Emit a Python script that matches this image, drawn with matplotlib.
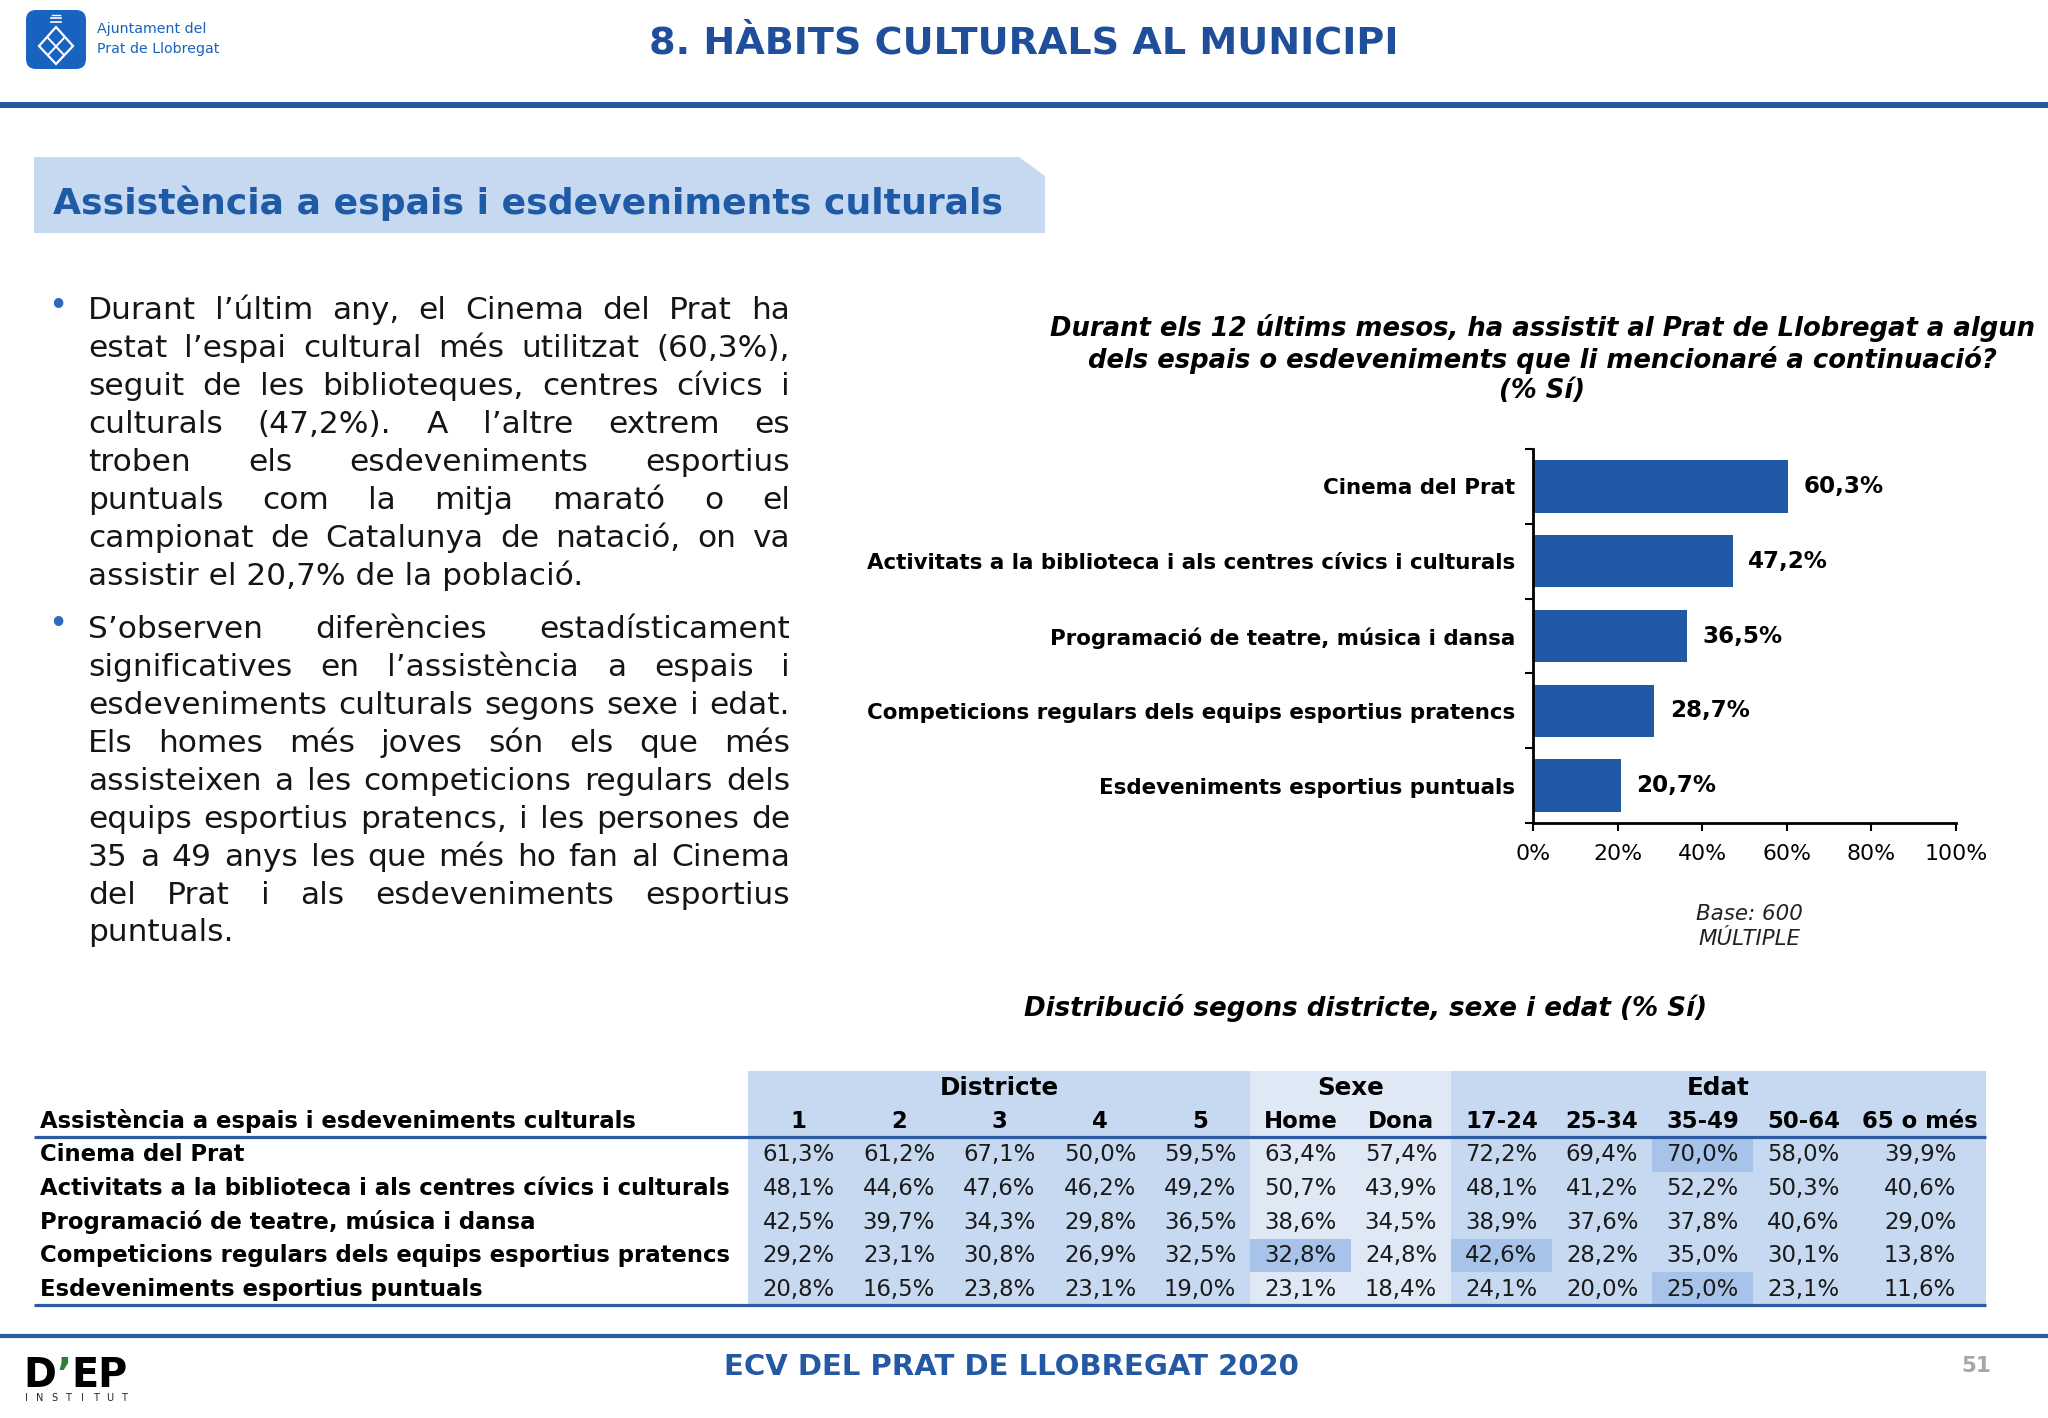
import numpy as np
import matplotlib
matplotlib.use("Agg")
import matplotlib.pyplot as plt
from matplotlib.patches import Rectangle, Polygon, FancyBboxPatch

W, H = 2048, 1418

# ---- data ----
categories = [
    "Cinema del Prat",
    "Activitats a la biblioteca i als centres cívics i culturals",
    "Programació de teatre, música i dansa",
    "Competicions regulars dels equips esportius pratencs",
    "Esdeveniments esportius puntuals",
]
total_yes = [60.3, 47.2, 36.5, 28.7, 20.7]

x_ticks = [0, 20, 40, 60, 80, 100]

groups = ["Districte", "Sexe", "Edat"]
group_sizes = [5, 2, 5]
columns = ["1", "2", "3", "4", "5", "Home", "Dona",
           "17-24", "25-34", "35-49", "50-64", "65 o més"]

cinema = [61.3, 61.2, 67.1, 50.0, 59.5, 63.4, 57.4, 72.2, 69.4, 70.0, 58.0, 39.9]
biblioteca = [48.1, 44.6, 47.6, 46.2, 49.2, 50.7, 43.9, 48.1, 41.2, 52.2, 50.3, 40.6]
teatre = [42.5, 39.7, 34.3, 29.8, 36.5, 38.6, 34.5, 38.9, 37.6, 37.8, 40.6, 29.0]
competicions = [29.2, 23.1, 30.8, 26.9, 32.5, 32.8, 24.8, 42.6, 28.2, 35.0, 30.1, 13.8]
esdeveniments = [20.8, 16.5, 23.8, 23.1, 19.0, 23.1, 18.4, 24.1, 20.0, 25.0, 23.1, 11.6]
table_rows = [cinema, biblioteca, teatre, competicions, esdeveniments]

# significant cells (row, column)
highlights = [(0, 9), (3, 5), (3, 7), (4, 9)]

para1 = [
    "Durant l’últim any, el Cinema del Prat ha",
    "estat l’espai cultural més utilitzat (60,3%),",
    "seguit de les biblioteques, centres cívics i",
    "culturals (47,2%). A l’altre extrem es",
    "troben els esdeveniments esportius",
    "puntuals com la mitja marató o el",
    "campionat de Catalunya de natació, on va",
    "assistir el 20,7% de la població.",
]
para2 = [
    "S’observen diferències estadísticament",
    "significatives en l’assistència a espais i",
    "esdeveniments culturals segons sexe i edat.",
    "Els homes més joves són els que més",
    "assisteixen a les competicions regulars dels",
    "equips esportius pratencs, i les persones de",
    "35 a 49 anys les que més ho fan al Cinema",
    "del Prat i als esdeveniments esportius",
    "puntuals.",
]

# ---- colours ----
BLUE = "#1F4E9A"
BAR = "#2159A6"
LIGHT = "#C6D9F1"
LIGHTER = "#DFE8F5"
HILITE = "#A8C3EA"
LINE = "#2B5BA3"


def pct(v):
    return f"{v:.1f}%".replace(".", ",")


fig = plt.figure(figsize=(W / 100, H / 100), dpi=100)
ov = fig.add_axes([0, 0, 1, 1])
ov.set_xlim(0, W)
ov.set_ylim(H, 0)
ov.axis("off")
renderer = fig.canvas.get_renderer()


def text_width(s, size, **kw):
    t = ov.text(0, 0, s, fontsize=size, **kw)
    w = t.get_window_extent(renderer).width
    t.remove()
    return w


def fit_size(s, width, **kw):
    return 20 * width / text_width(s, 20, **kw)


# ---- header ----
ov.add_patch(FancyBboxPatch((26, 10), 60, 59, boxstyle="round,pad=0,rounding_size=10",
                            fc="#1763BF", ec="none"))
ov.add_patch(Polygon([(56, 27), (73, 46), (56, 64), (39, 46)], closed=True,
                     fc="none", ec="white", lw=1.6))
ov.plot([48, 64], [38, 55], color="white", lw=1.4)
ov.plot([64, 48], [38, 55], color="white", lw=1.4)
ov.plot([51, 61], [18, 18], color="white", lw=1.2)
ov.plot([51, 61], [22, 22], color="white", lw=1.2)
ov.plot([52, 60], [15, 15], color="white", lw=1.0)

s = fit_size("Prat de Llobregat", 122)
ov.text(97, 29, "Ajuntament del", fontsize=s, color="#1763BF", va="center")
ov.text(97, 49, "Prat de Llobregat", fontsize=s, color="#1763BF", va="center")

s = fit_size("8. HÀBITS CULTURALS AL MUNICIPI", 748, fontweight="bold")
ov.text(1024, 43, "8. HÀBITS CULTURALS AL MUNICIPI", fontsize=s, fontweight="bold",
        color=BLUE, ha="center", va="center")
ov.plot([0, W], [105, 105], color="#2356A3", lw=4.3, solid_capstyle="butt")

# section banner
ov.add_patch(Polygon([(34, 157), (1019, 157), (1045, 176), (1045, 233), (34, 233)],
                     closed=True, fc=LIGHT, ec="none"))
s = fit_size("Assistència a espais i esdeveniments culturals", 951, fontweight="bold")
ov.text(53, 203, "Assistència a espais i esdeveniments culturals", fontsize=s,
        fontweight="bold", color="#1F5AA6", va="center")

# ---- justified body text ----
body_size = 23.0
X0, X1 = 88, 790
while max(text_width(l, body_size) for l in para1 + para2) > X1 - X0 and body_size > 14:
    body_size -= 0.5
em = body_size * 100 / 72


def justified(lines, y0, dy):
    for i, line in enumerate(lines):
        yb = y0 + i * dy + 0.36 * em
        if i == len(lines) - 1:
            ov.text(X0, yb, line, fontsize=body_size, color="#151515", va="baseline")
            continue
        words = line.split()
        widths = [text_width(w, body_size) for w in words]
        gap = (X1 - X0 - sum(widths)) / (len(words) - 1)
        x = X0
        for w, wd in zip(words, widths):
            ov.text(x, yb, w, fontsize=body_size, color="#151515", va="baseline")
            x += wd + gap


justified(para1, 308, 37.9)
justified(para2, 627, 37.9)
ov.text(58, 306, "•", fontsize=body_size * 1.05, color="#2E6BC0", ha="center", va="center")
ov.text(58, 625, "•", fontsize=body_size * 1.05, color="#2E6BC0", ha="center", va="center")

# ---- bar chart ----
title_lines = [
    "Durant els 12 últims mesos, ha assistit al Prat de Llobregat a algun",
    "dels espais o esdeveniments que li mencionaré a continuació?",
    "(% Sí)",
]
s = fit_size(title_lines[0], 985, fontweight="bold", fontstyle="italic")
for i, line in enumerate(title_lines):
    ov.text(1542, 328 + i * 31.5, line, fontsize=s, fontweight="bold", fontstyle="italic",
            ha="center", va="center", color="black")

lab_size = fit_size(categories[1], 652, fontweight="bold")
val_size = fit_size("60,3%", 80, fontweight="bold")
tick_size = fit_size("100%", 63)

ax = fig.add_axes([1533 / W, 1 - 823 / H, (1956 - 1533) / W, (823 - 449) / H])
ax.patch.set_alpha(0)
y = np.arange(len(categories))
ax.barh(y, total_yes, height=0.7, color=BAR, edgecolor="none")
ax.set_ylim(len(categories) - 0.5, -0.5)
ax.set_xlim(0, 100)
ax.set_yticks(y)
ax.set_yticklabels(categories, fontweight="bold", fontsize=lab_size)
ax.set_yticks(np.arange(-0.5, len(categories)), minor=True)
ax.tick_params(axis="y", which="major", length=0, pad=13)
ax.tick_params(axis="y", which="minor", length=6, width=1.5, direction="out")
ax.set_xticks(x_ticks)
ax.set_xticklabels([f"{v}%" for v in x_ticks], fontsize=tick_size)
ax.tick_params(axis="x", length=6, width=1.5, pad=9)
for side in ["top", "right"]:
    ax.spines[side].set_visible(False)
for side in ["left", "bottom"]:
    ax.spines[side].set_linewidth(2)
for i, v in enumerate(total_yes):
    ax.text(v + 3.6, i, pct(v), va="center", ha="left", fontweight="bold", fontsize=val_size)

s = fit_size("Base: 600", 107, fontstyle="italic")
ov.text(1749, 914, "Base: 600", fontsize=s, fontstyle="italic", ha="center", va="center", color="#222222")
ov.text(1749, 939, "MÚLTIPLE", fontsize=s, fontstyle="italic", ha="center", va="center", color="#222222")

s = fit_size("Distribució segons districte, sexe i edat (% Sí)", 683, fontweight="bold", fontstyle="italic")
ov.text(1366, 1008, "Distribució segons districte, sexe i edat (% Sí)", fontsize=s,
        fontweight="bold", fontstyle="italic", ha="center", va="center")

# ---- table ----
col_edges = [748, 849, 949, 1050, 1150, 1250, 1351, 1451, 1552, 1652, 1753, 1854, 1986]
col_centers = [(a + b) / 2 for a, b in zip(col_edges[:-1], col_edges[1:])]
row_h = 33.6
row_top = 1138
tab_top, tab_bottom = 1071, 1305

start = 0
for g, n in zip(groups, group_sizes):
    left, right = col_edges[start], col_edges[start + n]
    ov.add_patch(Rectangle((left, tab_top), right - left, tab_bottom - tab_top,
                           fc=LIGHTER if g == "Sexe" else LIGHT, ec="none", zorder=0))
    start += n
for r, c in highlights:
    ov.add_patch(Rectangle((col_edges[c], row_top + r * row_h), col_edges[c + 1] - col_edges[c],
                           row_h, fc=HILITE, ec="none", zorder=0.5))

tab_size = fit_size(categories[1], 692, fontweight="bold")
grp_size = fit_size("Districte", 119, fontweight="bold")

start = 0
for g, n in zip(groups, group_sizes):
    cx = (col_edges[start] + col_edges[start + n]) / 2
    ov.text(cx, 1088, g, fontsize=grp_size, fontweight="bold", ha="center", va="center")
    start += n
ov.text(40, 1121, "Assistència a espais i esdeveniments culturals", fontsize=tab_size,
        fontweight="bold", ha="left", va="center")
for cx, c in zip(col_centers, columns):
    ov.text(cx, 1121, c, fontsize=tab_size, fontweight="bold", ha="center", va="center")

for r, (cat, vals) in enumerate(zip(categories, table_rows)):
    cy = row_top + (r + 0.5) * row_h
    ov.text(40, cy, cat, fontsize=tab_size, fontweight="bold", ha="left", va="center")
    for cx, v in zip(col_centers, vals):
        ov.text(cx, cy, pct(v), fontsize=tab_size, ha="center", va="center", color="#1a1a1a")

ov.plot([34, 1986], [1137, 1137], color=LINE, lw=2.3, solid_capstyle="butt")
ov.plot([34, 1986], [1305, 1305], color=LINE, lw=2.3, solid_capstyle="butt")

# ---- footer ----
ov.plot([0, W], [1336, 1336], color=LINE, lw=3, solid_capstyle="butt")
s = fit_size("ECV DEL PRAT DE LLOBREGAT 2020", 575, fontweight="bold")
ov.text(1011, 1367, "ECV DEL PRAT DE LLOBREGAT 2020", fontsize=s, fontweight="bold",
        color="#2358A5", ha="center", va="center")
s = fit_size("51", 30, fontweight="bold")
ov.text(1976, 1366, "51", fontsize=s, fontweight="bold", color="#A6A6A6", ha="center", va="center")

s = fit_size("D’EP", 104, fontweight="heavy")
wd = text_width("D", s, fontweight="heavy")
wa = text_width("D’", s, fontweight="heavy")
ov.text(23, 1387, "D", fontsize=s, fontweight="heavy", color="black", va="baseline")
ov.text(23 + wd, 1387, "’", fontsize=s, fontweight="heavy", color="#2E7D32", va="baseline")
ov.text(23 + wa, 1387, "EP", fontsize=s, fontweight="heavy", color="black", va="baseline")
for i, ch in enumerate("INSTITUT"):
    ov.text(26 + i * 14, 1398, ch, fontsize=7, color="#222222", ha="center", va="center")

fig.savefig("out.png", dpi=100)
